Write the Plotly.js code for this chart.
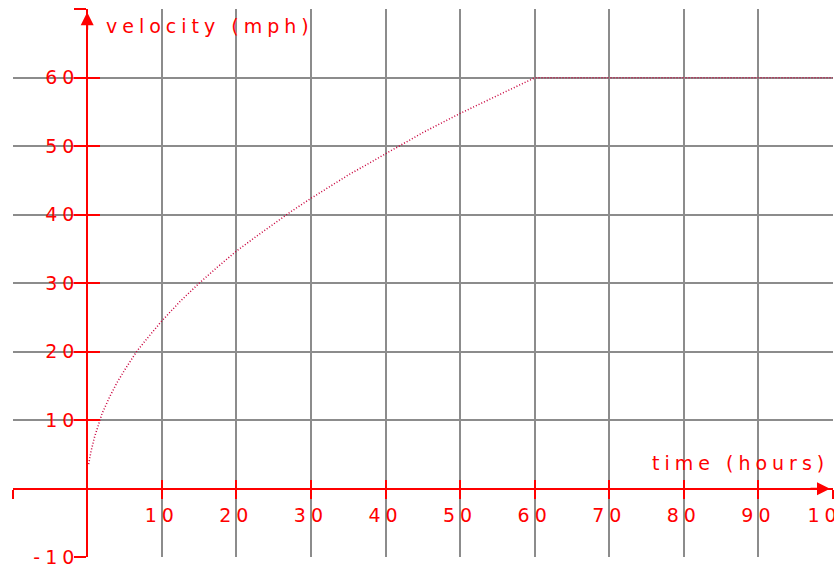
<!DOCTYPE html>
<html>
<head>
<meta charset="utf-8">
<script src="https://cdn.plot.ly/plotly-3.0.1.min.js"></script>
<style>
  html, body { margin: 0; padding: 0; background: #fff; }
  #chart { width: 834px; height: 565px; }
  svg text { letter-spacing: 5px; }
</style>
</head>
<body>
<div id="chart"></div>
<script>
// values
const timeHours = [0.2, 0.5, 1, 2, 3, 4, 5, 6.6, 8, 10, 12.5, 15, 17.5, 20, 22.5, 25, 27.5, 30, 35, 40, 45, 50, 55, 60, 70, 80, 90, 100];
const velocityMph = [3.6, 5.4, 7.6, 11.0, 13.4, 15.5, 17.3, 20.0, 21.9, 24.5, 27.4, 30.0, 32.4, 34.7, 36.7, 38.7, 40.6, 42.4, 45.8, 48.9, 52.0, 54.8, 57.4, 60, 60, 60, 60, 60];

const xTickVals = [-10, 0, 10, 20, 30, 40, 50, 60, 70, 80, 90, 100];
const xTickText = ['', '', '10', '20', '30', '40', '50', '60', '70', '80', '90', '100'];
const yTickVals = [-10, 0, 10, 20, 30, 40, 50, 60, 70];
const yTickText = ['-10', '', '10', '20', '30', '40', '50', '60', ''];
const xGridVals = [10, 20, 30, 40, 50, 60, 70, 80, 90, 100];
const yGridVals = [0, 10, 20, 30, 40, 50, 60, 70];

const xTitle = 'time (hours)';
const yTitle = 'velocity (mph)';

const W = 834, H = 565;
const xRange = [-10, 100], yRange = [-10, 70];
const xDom = [12.6 / W, 833 / W];
const yDom = [(H - 557.3) / H, (H - 9.3) / H];
// paper positions where the data zero lines fall
const xZeroPaper = xDom[0] + (0 - xRange[0]) / (xRange[1] - xRange[0]) * (xDom[1] - xDom[0]);
const yZeroPaper = yDom[0] + (0 - yRange[0]) / (yRange[1] - yRange[0]) * (yDom[1] - yDom[0]);

const red = '#ff0000';
const tickFont = { family: 'DejaVu Sans', size: 19, color: red };

const traces = [
  {
    x: timeHours, y: velocityMph, type: 'scatter', mode: 'lines',
    line: { color: '#c8003c', width: 1.5, dash: '1px,2px' },
    xaxis: 'x', yaxis: 'y', hoverinfo: 'skip'
  },
  { x: [], y: [], type: 'scatter', mode: 'lines', xaxis: 'x2', yaxis: 'y2', showlegend: false },
  { x: [], y: [], type: 'scatter', mode: 'lines', xaxis: 'x3', yaxis: 'y3', showlegend: false }
];

const gridAxisBase = {
  showgrid: true, gridcolor: '#8c8c8c', gridwidth: 2,
  zeroline: false, showline: false, ticks: '', showticklabels: false,
  tickmode: 'array', autorange: false, fixedrange: true
};

const layout = {
  width: W, height: H,
  margin: { l: 0, r: 0, t: 0, b: 0, pad: 0 },
  paper_bgcolor: '#ffffff', plot_bgcolor: 'rgba(0,0,0,0)',
  showlegend: false,
  xaxis: Object.assign({}, gridAxisBase, { domain: xDom, range: xRange, tickvals: xGridVals, anchor: 'y' }),
  yaxis: Object.assign({}, gridAxisBase, { domain: yDom, range: yRange, tickvals: yGridVals, anchor: 'x' }),
  xaxis2: {
    overlaying: 'x', anchor: 'free', position: yZeroPaper, range: xRange, autorange: false,
    showgrid: false, zeroline: false, showline: true, linecolor: red, linewidth: 2,
    ticks: 'outside', ticklen: 9, tickwidth: 2, tickcolor: red, ticklabeloverflow: 'allow',
    tickmode: 'array', tickvals: xTickVals, ticktext: xTickText, tickfont: tickFont
  },
  xaxis3: {
    overlaying: 'x', anchor: 'free', position: yZeroPaper, range: xRange, autorange: false,
    showgrid: false, zeroline: false, showline: false,
    ticks: 'inside', ticklen: 9, tickwidth: 2, tickcolor: red,
    tickmode: 'array', tickvals: xTickVals, showticklabels: false
  },
  yaxis2: {
    overlaying: 'y', anchor: 'free', position: xZeroPaper, range: yRange, autorange: false,
    showgrid: false, zeroline: false, showline: true, linecolor: red, linewidth: 2,
    ticks: 'outside', ticklen: 12, tickwidth: 2, tickcolor: red, ticklabeloverflow: 'allow',
    ticklabelstandoff: -9,
    tickmode: 'array', tickvals: yTickVals, ticktext: yTickText, tickfont: tickFont
  },
  yaxis3: {
    overlaying: 'y', anchor: 'free', position: xZeroPaper, range: yRange, autorange: false,
    showgrid: false, zeroline: false, showline: false,
    ticks: 'inside', ticklen: 12, tickwidth: 2, tickcolor: red,
    tickmode: 'array', tickvals: yTickVals, showticklabels: false
  },
  annotations: [
    { text: yTitle, xref: 'x', yref: 'y', x: 2.25, y: 67.6, xanchor: 'left', yanchor: 'middle',
      showarrow: false, font: tickFont },
    { text: xTitle, xref: 'x', yref: 'y', x: 75.5, y: 3.7, xanchor: 'left', yanchor: 'middle',
      showarrow: false, font: tickFont },
    { text: '', xref: 'x', yref: 'y', x: 0, y: 70, ax: 0, ay: 22,
      showarrow: true, arrowhead: 2, arrowsize: 1.3, arrowwidth: 2, arrowcolor: red, standoff: 3 },
    { text: '', xref: 'x', yref: 'y', x: 100, y: 0, ax: -24, ay: 0,
      showarrow: true, arrowhead: 2, arrowsize: 1.3, arrowwidth: 2, arrowcolor: red, standoff: 3 }
  ]
};

Plotly.newPlot('chart', traces, layout, { displayModeBar: false, staticPlot: true });
</script>
</body>
</html>
